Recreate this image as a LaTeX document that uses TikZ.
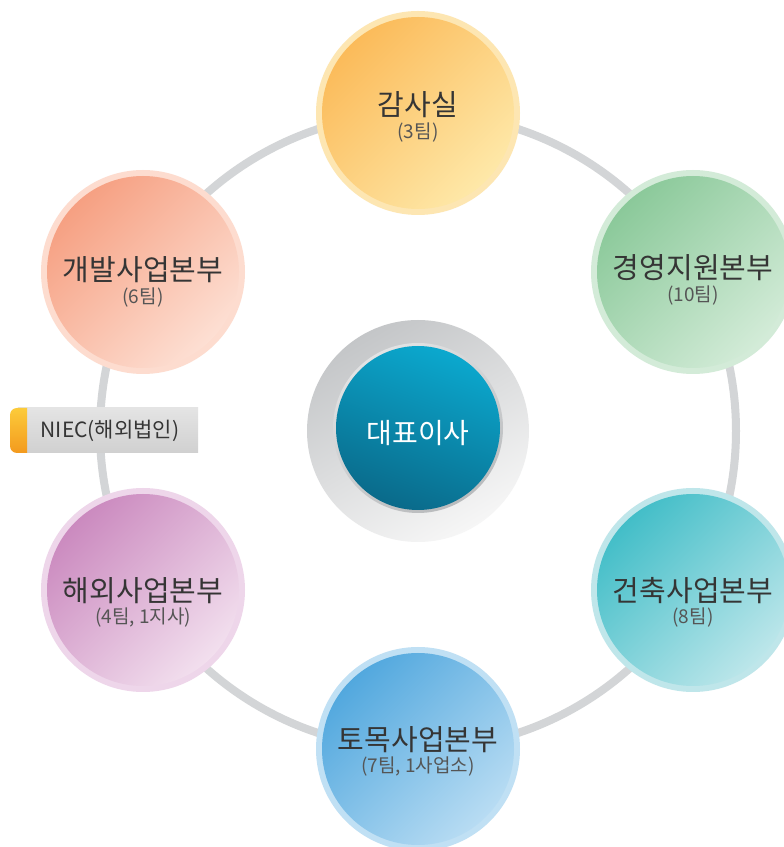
\documentclass[tikz,border=0pt]{standalone}
\usepackage{fontspec}
\newfontfamily\kr{Noto Sans CJK KR}
\usetikzlibrary{shadings}
\definecolor{ringgrey}{HTML}{D3D5D7}
\definecolor{txt}{HTML}{353535}
\definecolor{subtxt}{HTML}{555555}
\definecolor{auR}{HTML}{FDE6B2}\definecolor{auA}{HTML}{FBBB5A}\definecolor{auB}{HTML}{FEE8A8}
\definecolor{mgR}{HTML}{D3EBD8}\definecolor{mgA}{HTML}{8BC99A}\definecolor{mgB}{HTML}{D2EBD7}
\definecolor{arR}{HTML}{BFE6EA}\definecolor{arA}{HTML}{43BEC8}\definecolor{arB}{HTML}{BCE6EA}
\definecolor{cvR}{HTML}{C0E0F4}\definecolor{cvA}{HTML}{52A8DE}\definecolor{cvB}{HTML}{B8DCF3}
\definecolor{ovR}{HTML}{EED6EA}\definecolor{ovA}{HTML}{CB8ABF}\definecolor{ovB}{HTML}{F2DFEE}
\definecolor{dvR}{HTML}{FDDCCF}\definecolor{dvA}{HTML}{F6A082}\definecolor{dvB}{HTML}{FDDFD3}
\definecolor{ceoRingA}{HTML}{C4C6C8}\definecolor{ceoRingB}{HTML}{F6F6F6}
\definecolor{ceoEdgeA}{HTML}{E2E3E4}\definecolor{ceoEdgeB}{HTML}{B9BBBD}
\definecolor{ceoA}{HTML}{0BA8CE}\definecolor{ceoB}{HTML}{0A6A8A}
\definecolor{tagA}{HTML}{E4E4E4}\definecolor{tagM}{HTML}{F8F8F8}\definecolor{tagB}{HTML}{D0D0D0}
\definecolor{capA}{HTML}{FCCB3A}\definecolor{capB}{HTML}{F39A1E}
\tikzset{
  unit/.style={circle, minimum size=204pt, inner sep=0pt},
  ttl/.style={font=\kr\fontsize{29}{31}\selectfont, text=txt, inner sep=0pt},
  sub/.style={font=\kr\fontsize{19}{21}\selectfont, text=subtxt, inner sep=0pt},
}
\newcommand{\orgunit}[5]{%
  \fill[#3] #2 circle (102pt);
  \shade[top color=#4, bottom color=#5, shading angle=45] #2 circle (96pt);
  \node[unit] (#1) at #2 {};
}
\begin{document}
\begin{tikzpicture}[x=1pt,y=1pt]
\useasboundingbox (0,0) rectangle (784,847);
\fill[white] (0,0) rectangle (784,847);
% centre
\node[circle, minimum size=222pt, inner sep=0pt] (ceo) at (418,416) {};
% ring
\draw[ringgrey, line width=8pt] (ceo.center) circle (318pt);
% units
\orgunit{audit}{(418,734)}{auR}{auA}{auB}
\orgunit{mgmt}{(693,575)}{mgR}{mgA}{mgB}
\orgunit{arch}{(693,257)}{arR}{arA}{arB}
\orgunit{civil}{(418,98)}{cvR}{cvA}{cvB}
\orgunit{over}{(143,257)}{ovR}{ovA}{ovB}
\orgunit{dev}{(143,575)}{dvR}{dvA}{dvB}
% centre circle
\shade[top color=ceoRingA, bottom color=ceoRingB, shading angle=30] (ceo.center) circle (111pt);
\shade[top color=ceoEdgeA, bottom color=ceoEdgeB, shading angle=30] (418,419) circle (85pt);
\shade[top color=ceoA, bottom color=ceoB, shading angle=-20] (418,419) circle (82pt);
\node[font=\kr\fontsize{28}{30}\selectfont, text=white] (ceotxt) at (418,414) {대표이사};
% labels
\node[ttl] (audit-t) at ([yshift=8pt]audit.center) {감사실};
\node[sub] (audit-s) at ([yshift=-20pt]audit.center) {(3팀)};
\node[ttl] (mgmt-t) at ([yshift=4pt]mgmt.center) {경영지원본부};
\node[sub] (mgmt-s) at ([yshift=-24pt]mgmt.center) {(10팀)};
\node[ttl] (arch-t) at ([yshift=-1pt]arch.center) {건축사업본부};
\node[sub] (arch-s) at ([yshift=-28pt]arch.center) {(8팀)};
\node[ttl] (civil-t) at ([yshift=9pt]civil.center) {토목사업본부};
\node[sub] (civil-s) at ([yshift=-18pt]civil.center) {(7팀,\ 1사업소)};
\node[ttl] (over-t) at ([yshift=-1pt]over.center) {해외사업본부};
\node[sub] (over-s) at ([yshift=-28pt]over.center) {(4팀,\ 1지사)};
\node[ttl] (dev-t) at ([yshift=2pt]dev.center) {개발사업본부};
\node[sub] (dev-s) at ([yshift=-26pt]dev.center) {(6팀)};
% NIEC tag
\shade[top color=tagA, middle color=tagM, bottom color=tagB]
  (18,439) -- (198,439) -- (198,394) -- (18,394) -- cycle;
\shade[top color=capA, bottom color=capB]
  (27,439) -- (17,439) arc[start angle=90, end angle=180, radius=7pt] -- (10,401) arc[start angle=180, end angle=270, radius=7pt] -- (27,394) -- cycle;
\node[font=\kr\fontsize{21}{23}\selectfont, text=txt, inner sep=0pt] (niec) at (110,416.5) {NIEC(해외법인)};
\end{tikzpicture}
\end{document}
